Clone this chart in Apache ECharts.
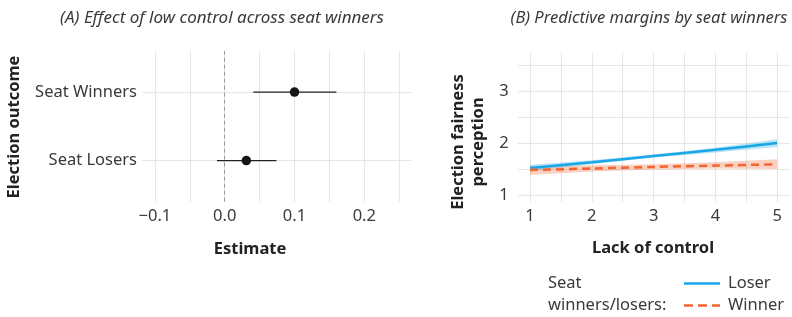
<!DOCTYPE html>
<html>
<head>
<meta charset="utf-8">
<script src="https://cdn.jsdelivr.net/npm/echarts@6/dist/echarts.min.js"></script>
<style>html,body{margin:0;padding:0;background:#fff;}#c{width:792px;height:317px;}</style>
</head>
<body>
<div id="c"></div>
<script>
// Panel A data
const categories = ['Seat Losers', 'Seat Winners'];
const estimates = [0.031, 0.100];
const ciLow = [-0.011, 0.041];
const ciHigh = [0.074, 0.160];
const xTicksA = [-0.1, -0.05, 0, 0.05, 0.1, 0.15, 0.2, 0.25];
const xLabelsA = [-0.1, 0, 0.1, 0.2];

// Panel B data
const controlLevels = [1, 2, 3, 4, 5];
const loserFit = [1.52, 1.63, 1.75, 1.87, 2.00];
const loserLow = [1.46, 1.59, 1.72, 1.82, 1.925];
const loserHigh = [1.58, 1.67, 1.78, 1.91, 2.075];
const winnerFit = [1.48, 1.51, 1.54, 1.565, 1.59];
const winnerLow = [1.39, 1.45, 1.49, 1.51, 1.50];
const winnerHigh = [1.56, 1.57, 1.59, 1.63, 1.69];
const xTicksB = [1, 1.5, 2, 2.5, 3, 3.5, 4, 4.5, 5];
const xLabelsB = [1, 2, 3, 4, 5];
const yTicksB = [1, 1.5, 2, 2.5, 3, 3.5];
const yLabelsB = [1, 2, 3];

const FONT = 'Noto Sans';
const TXT = '#3a3a3a';
const GRID = '#e6e6e6';
const BLUE = '#1aa7e8';
const ORANGE = '#f26430';
const FS = 16.5;

const pair = (xs, ys) => xs.map((x, i) => [x, ys[i]]);
const fmtNum = (v, d) => v.toFixed(d).replace('-', '\u2212');

const chart = echarts.init(document.getElementById('c'), null, {renderer: 'canvas'});

const axisCommon = {
  axisLine: {show: false},
  splitLine: {show: true, lineStyle: {color: GRID, width: 1.1}},
  axisLabel: {color: TXT, fontFamily: FONT, fontSize: FS}
};

function bandSeries(lows, highs, color) {
  return {
    type: 'custom', xAxisIndex: 1, yAxisIndex: 1, silent: true, z: 2,
    data: controlLevels.map((x, i) => [x, lows[i], highs[i]]),
    encode: {x: 0, y: [1, 2]},
    renderItem: function (params, api) {
      if (params.dataIndex !== 0) return null;
      const top = controlLevels.map((x, i) => api.coord([x, highs[i]]));
      const bot = controlLevels.map((x, i) => api.coord([x, lows[i]])).reverse();
      return {type: 'polygon', shape: {points: top.concat(bot)}, style: {fill: color}};
    }
  };
}

const legendBase = {
  left: 679, itemWidth: 36, itemHeight: 20, itemGap: 0, symbolKeepAspect: true,
  textStyle: {color: TXT, fontFamily: FONT, fontSize: FS, padding: [0, 0, 0, 3]},
  selectedMode: false
};

const option = {
  backgroundColor: '#fff',
  animation: false,
  textStyle: {fontFamily: FONT},
  grid: [
    {left: 142, top: 51, width: 270, height: 150.7},
    {left: 517.7, top: 52.7, width: 271.8, height: 149}
  ],
  xAxis: [
    Object.assign({}, axisCommon, {
      type: 'value', gridIndex: 0, min: -0.1185, max: 0.2683,
      axisTick: {show: false, customValues: xTicksA},
      axisLabel: Object.assign({}, axisCommon.axisLabel, {customValues: xLabelsA, margin: 6, formatter: v => fmtNum(v, 1)})
    }),
    Object.assign({}, axisCommon, {
      type: 'value', gridIndex: 1, min: 0.8, max: 5.2,
      axisTick: {show: false, customValues: xTicksB},
      axisLabel: Object.assign({}, axisCommon.axisLabel, {customValues: xLabelsB, margin: 6, formatter: v => String(v)})
    })
  ],
  yAxis: [
    Object.assign({}, axisCommon, {
      type: 'value', gridIndex: 0, min: 0.4, max: 2.6,
      axisTick: {show: false, customValues: [1, 2]},
      axisLabel: Object.assign({}, axisCommon.axisLabel, {customValues: [1, 2], margin: 5, formatter: v => categories[Math.round(v) - 1]})
    }),
    Object.assign({}, axisCommon, {
      type: 'value', gridIndex: 1, min: 0.87, max: 3.74,
      axisTick: {show: false, customValues: yTicksB},
      axisLabel: Object.assign({}, axisCommon.axisLabel, {customValues: yLabelsB, margin: 9, formatter: v => String(v)})
    })
  ],
  legend: [
    Object.assign({}, legendBase, {
      top: 270,
      data: [{name: 'Loser', icon: 'path://M0,0H36V2.6H0Z'}]
    }),
    Object.assign({}, legendBase, {
      top: 292,
      data: [{name: 'Winner', icon: 'path://M0,0H9V2.6H0Z M14,0H23V2.6H14Z M28,0H36V2.6H28Z'}]
    })
  ],
  graphic: [
    {type: 'text', x: 222, y: 18, style: {text: '(A) Effect of low control across seat winners', align: 'center', verticalAlign: 'middle', fill: TXT, font: 'italic 17px "Noto Sans"'}},
    {type: 'text', x: 649, y: 18, style: {text: '(B) Predictive margins by seat winners', align: 'center', verticalAlign: 'middle', fill: TXT, font: 'italic 16.5px "Noto Sans"'}},
    {type: 'text', x: 250, y: 249, style: {text: 'Estimate', align: 'center', verticalAlign: 'middle', fill: '#222', font: 'bold 16.5px "Noto Sans"'}},
    {type: 'text', x: 653, y: 248, style: {text: 'Lack of control', align: 'center', verticalAlign: 'middle', fill: '#222', font: 'bold 16.5px "Noto Sans"'}},
    {type: 'text', x: 14, y: 127, rotation: Math.PI / 2, style: {text: 'Election outcome', align: 'center', verticalAlign: 'middle', fill: '#222', font: 'bold 16.5px "Noto Sans"'}},
    {type: 'text', x: 468, y: 142, rotation: Math.PI / 2, style: {text: 'Election fairness\nperception', align: 'center', verticalAlign: 'middle', fill: '#222', font: 'bold 16.5px "Noto Sans"', lineHeight: 20}},
    {type: 'text', x: 548, y: 294, style: {text: 'Seat\nwinners/losers:', align: 'left', verticalAlign: 'middle', fill: TXT, font: '16.5px "Noto Sans"', lineHeight: 22}}
  ],
  series: [
    {
      type: 'custom', xAxisIndex: 0, yAxisIndex: 0, silent: true,
      data: categories.map((c, i) => [ciLow[i], ciHigh[i], i + 1]),
      encode: {x: [0, 1], y: 2},
      renderItem: function (params, api) {
        const a = api.coord([api.value(0), api.value(2)]);
        const b = api.coord([api.value(1), api.value(2)]);
        return {type: 'line', shape: {x1: a[0], y1: a[1], x2: b[0], y2: b[1]}, style: {stroke: '#222', lineWidth: 1.3}};
      },
      z: 3
    },
    {
      type: 'scatter', xAxisIndex: 0, yAxisIndex: 0, silent: true,
      data: estimates.map((e, i) => [e, i + 1]),
      symbolSize: 9.5, itemStyle: {color: '#151515', opacity: 1}, z: 4,
      markLine: {
        silent: true, symbol: 'none', label: {show: false},
        lineStyle: {color: '#9a9a9a', type: [4, 3], width: 1},
        data: [{xAxis: 0}]
      }
    },
    bandSeries(winnerLow, winnerHigh, 'rgba(242,100,48,0.30)'),
    bandSeries(loserLow, loserHigh, 'rgba(26,167,232,0.30)'),
    {
      name: 'Loser', type: 'line', xAxisIndex: 1, yAxisIndex: 1, silent: true,
      data: pair(controlLevels, loserFit), symbol: 'none', showSymbol: false, smooth: 0.3,
      itemStyle: {color: BLUE}, lineStyle: {color: BLUE, width: 2.5}, z: 5
    },
    {
      name: 'Winner', type: 'line', xAxisIndex: 1, yAxisIndex: 1, silent: true,
      data: pair(controlLevels, winnerFit), symbol: 'none', showSymbol: false, smooth: 0.3,
      itemStyle: {color: ORANGE}, lineStyle: {color: ORANGE, width: 2.5, type: [8, 5]}, z: 5
    }
  ]
};
chart.setOption(option);
</script>
</body>
</html>
